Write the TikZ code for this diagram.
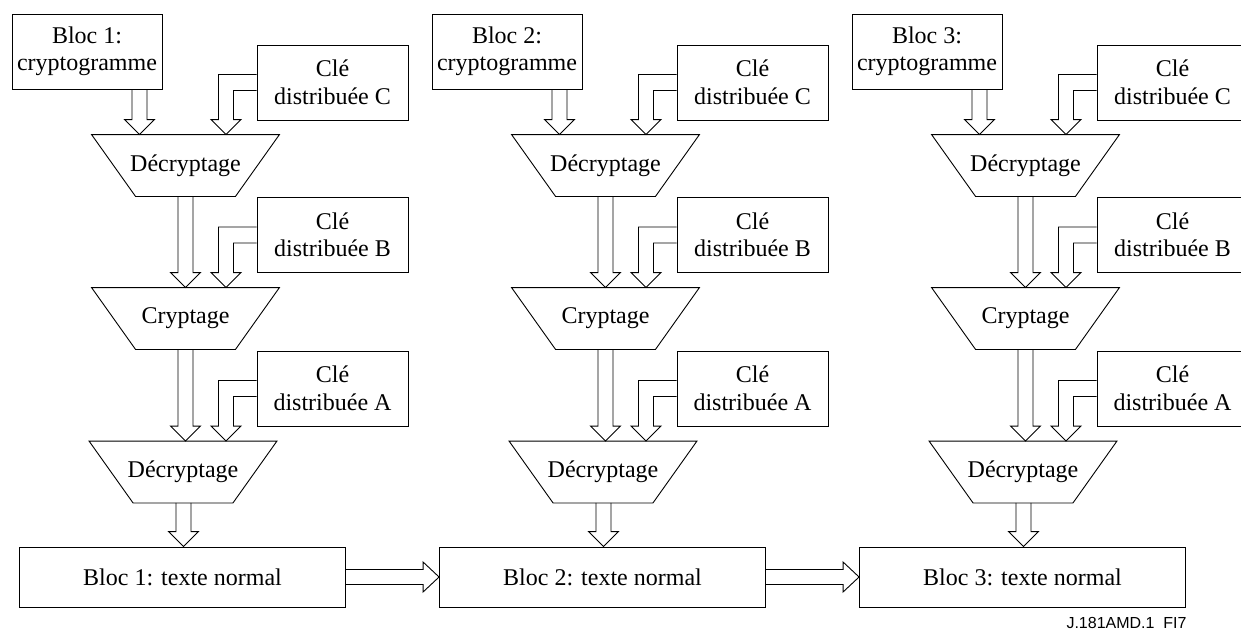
\documentclass[tikz,border=0pt]{standalone}
\usepackage{fontspec}
\setmainfont{Liberation Serif}
\newfontfamily\figfont{Liberation Sans}
\usetikzlibrary{calc}

%% hollow arrow going down, #1 x coordinate, #2 from, #3 to
\newcommand\fatdown[3]{%
  \draw let \p1=(#1 |- #2.south), \p2=(#1 |- #3.north) in
    (\x1-7.5pt,\y1) -- (\x1-7.5pt,\y2+15pt) -- (\x1-15pt,\y2+15pt) -- (\x1,\y2)
    -- (\x1+15pt,\y2+15pt) -- (\x1+7.5pt,\y2+15pt) -- (\x1+7.5pt,\y1);}
%% hollow arrow leaving a key box to the left, then down
\newcommand\fatbend[3]{%
  \draw let \p1=(#1 |- #2.west), \p2=(#1 |- #3.north), \p3=(#2.west) in
    (\x3,\y1+8pt) -- (\x1-7.5pt,\y1+8pt) -- (\x1-7.5pt,\y2+15pt) -- (\x1-15pt,\y2+15pt)
    -- (\x1,\y2) -- (\x1+15pt,\y2+15pt) -- (\x1+7.5pt,\y2+15pt) -- (\x1+7.5pt,\y1-8pt)
    -- (\x3,\y1-8pt);}
%% hollow arrow going right
\newcommand\fatright[2]{%
  \draw let \p1=(#1.east), \p2=(#2.west) in
    (\x1,\y1+7.5pt) -- (\x2-16pt,\y1+7.5pt) -- (\x2-16pt,\y1+15pt) -- (\x2,\y1)
    -- (\x2-16pt,\y1-15pt) -- (\x2-16pt,\y1-7.5pt) -- (\x1,\y1-7.5pt);}
%% outline of a cipher stage
\newcommand\trapdraw[1]{%
  \draw (#1.north west) -- (#1.north east) -- ([xshift=-44pt]#1.south east)
    -- ([xshift=44pt]#1.south west) -- cycle;}

\begin{document}
\begin{tikzpicture}[x=1pt,y=-1pt,line width=0.9pt,
    txt/.style={align=center,inner sep=0pt,font=\fontsize{24}{27.5}\selectfont},
    blocbox/.style={txt,draw,minimum width=150pt,minimum height=75pt},
    keybox/.style={txt,draw,minimum width=151pt,minimum height=75pt},
    plainbox/.style={txt,draw,minimum width=326pt,minimum height=60pt},
    stage/.style={txt,minimum width=187pt,minimum height=61pt}]

  \useasboundingbox (0,0) rectangle (1241,632);

  \foreach \c in {1,2,3}{
    \pgfmathsetmacro\dx{(\c-1)*420}
    %% boxes of one column
    \node[blocbox] (cipher\c) at (87+\dx,51.5) {Bloc \c:\\cryptogramme};
    \node[keybox] (keyC\c) at (332.5+\dx,82.5) {Clé\\distribuée C};
    \node[keybox] (keyB\c) at (332.5+\dx,235) {Clé\\distribuée B};
    \node[keybox] (keyA\c) at (332.5+\dx,388.5) {Clé\\distribuée A};
    \node[stage] (decC\c) at (185.5+\dx,165.5) {Décryptage};
    \node[stage] (encB\c) at (185.5+\dx,318.5) {Cryptage};
    \node[stage] (decA\c) at (183+\dx,472) {Décryptage};
    \node[plainbox] (plain\c) at (182.5+\dx,577) {Bloc \c: texte normal};
    \trapdraw{decC\c}
    \trapdraw{encB\c}
    \trapdraw{decA\c}

    %% x of the arrows
    \coordinate (xin\c) at (139.5+\dx,0);
    \coordinate (xkey\c) at (226+\dx,0);
    \coordinate (xmid\c) at (185.5+\dx,0);
    \coordinate (xout\c) at (183.5+\dx,0);

    \fatdown{xin\c}{cipher\c}{decC\c}
    \fatbend{xkey\c}{keyC\c}{decC\c}
    \fatdown{xmid\c}{decC\c}{encB\c}
    \fatbend{xkey\c}{keyB\c}{encB\c}
    \fatdown{xmid\c}{encB\c}{decA\c}
    \fatbend{xkey\c}{keyA\c}{decA\c}
    \fatdown{xout\c}{decA\c}{plain\c}
  }

  \fatright{plain1}{plain2}
  \fatright{plain2}{plain3}

  \node[anchor=east,inner sep=0pt,font=\figfont\fontsize{16}{18}\selectfont] (tag) at (1187,623) {J.181AMD.1\ \ FI7};
\end{tikzpicture}
\end{document}
